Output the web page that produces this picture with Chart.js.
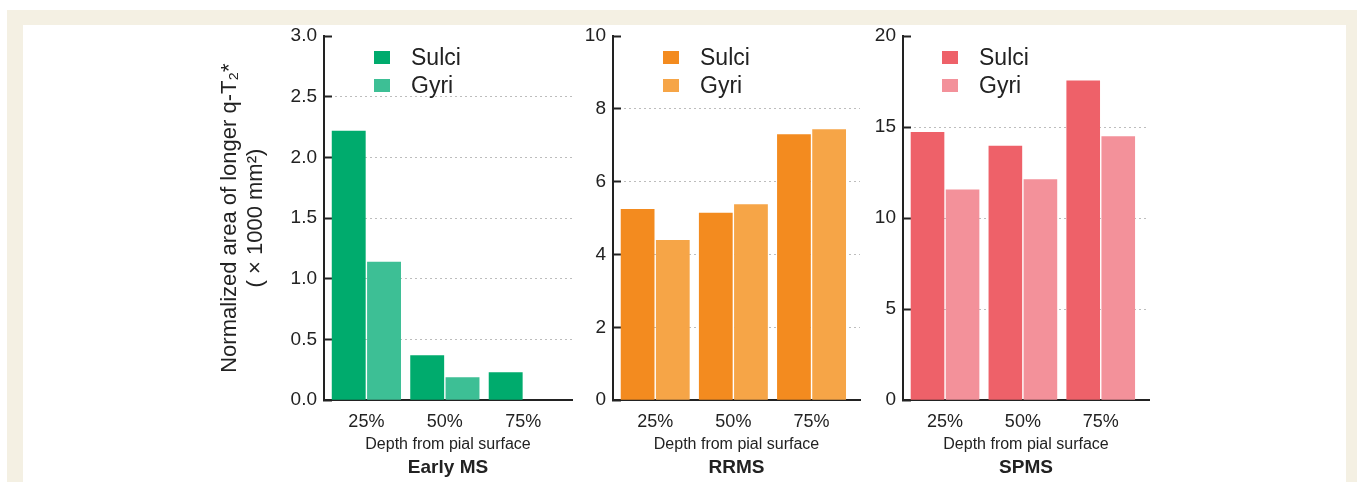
<!DOCTYPE html>
<html>
<head>
<meta charset="utf-8">
<title>Normalized area of longer q-T2* by depth</title>
<script src="https://cdn.jsdelivr.net/npm/chart.js@4.4.1/dist/chart.umd.min.js"></script>
<style>
    html, body { margin: 0; padding: 0; background: #fff; }
    body { width: 1357px; height: 482px; position: relative; overflow: hidden; font-family: 'Liberation Sans', Arial, Helvetica, sans-serif; }
    .frame { position: absolute; background: #f4f0e3; }
    .panel { position: absolute; top: 0; height: 482px; }
    .panel canvas { position: absolute; left: 0; top: 0; }
    .legend { position: absolute; top: 43px; color: #222; font-size: 23px; }
    .legend .row { display: flex; align-items: center; height: 28.5px; white-space: nowrap; }
    .legend .swatch { width: 16px; height: 13px; margin-right: 21px; }
</style>
</head>
<body>
<div class="frame" style="left:7px;top:10px;width:1350px;height:15px"></div>
<div class="frame" style="left:7px;top:10px;width:16px;height:472px"></div>
<div class="frame" style="left:1346px;top:10px;width:11px;height:472px"></div>

<div class="panel" id="panel-early" style="left:0;width:580px"><canvas id="chart-early" width="580" height="482"></canvas></div>
<div class="panel" id="panel-rrms" style="left:580px;width:290px"><canvas id="chart-rrms" width="290" height="482"></canvas></div>
<div class="panel" id="panel-spms" style="left:870px;width:290px"><canvas id="chart-spms" width="290" height="482"></canvas></div>

<script>
// values (x 1000 mm2)
const depths = ['25%', '50%', '75%'];
const seriesNames = ['Sulci', 'Gyri'];
const earlySulci = [2.22, 0.37, 0.23];
const earlyGyri = [1.14, 0.19, 0];
const rrmsSulci = [5.25, 5.15, 7.30];
const rrmsGyri = [4.40, 5.38, 7.44];
const spmsSulci = [14.73, 13.97, 17.55];
const spmsGyri = [11.57, 12.14, 14.49];
const panelTitles = ['Early MS', 'RRMS', 'SPMS'];
const xTitle = 'Depth from pial surface';
const yTitle = ['Normalized area of longer q-T\u2082*', '( \u00d7 1000 mm\u00b2)'];

Chart.defaults.font.family = "'Liberation Sans', Arial, Helvetica, sans-serif";
Chart.defaults.color = '#222';

const panels = [
    { id: 'early', sulci: earlySulci, gyri: earlyGyri, title: panelTitles[0], max: 3, step: 0.5, decimals: 1,
      colors: ['#00ab6d', '#3dbf95'], showYTitle: true, padLeft: 217, padRight: 8, yWidth: 107, legendX: 50 },
    { id: 'rrms', sulci: rrmsSulci, gyri: rrmsGyri, title: panelTitles[1], max: 10, step: 2, decimals: 0,
      colors: ['#f38b1f', '#f6a547'], showYTitle: false, padLeft: 3, padRight: 10, yWidth: 30, legendX: 50 },
    { id: 'spms', sulci: spmsSulci, gyri: spmsGyri, title: panelTitles[2], max: 20, step: 5, decimals: 0,
      colors: ['#ee6169', '#f3919a'], showYTitle: false, padLeft: 3, padRight: 11, yWidth: 30, legendX: 39 }
];

function buildChart(p) {
    const ctx = document.getElementById('chart-' + p.id).getContext('2d');
    return new Chart(ctx, {
        type: 'bar',
        data: {
            labels: depths.map((d, i) => i + 1),
            datasets: [
                { label: seriesNames[0], data: p.sulci, backgroundColor: p.colors[0] },
                { label: seriesNames[1], data: p.gyri, backgroundColor: p.colors[1] }
            ]
        },
        options: {
            responsive: false,
            animation: false,
            events: [],
            categoryPercentage: 0.9,
            barPercentage: 0.96,
            borderWidth: 0,
            layout: { padding: { top: 36, bottom: 3, left: p.padLeft, right: p.padRight } },
            scales: {
                x: {
                    type: 'linear',
                    min: 0.46,
                    max: 3.62,
                    offset: false,
                    afterBuildTicks: (scale) => {
                        scale.ticks = depths.map((d, i) => ({ value: i + 1 }));
                    },
                    afterFit: (scale) => { scale.height = 56; },
                    ticks: {
                        callback: (v) => depths[v - 1],
                        font: { size: 18 },
                        color: '#222',
                        padding: 11,
                        maxRotation: 0
                    },
                    grid: { display: false, drawTicks: false, offset: false },
                    border: { color: '#222', width: 2 },
                    title: { display: true, text: xTitle, font: { size: 16 }, color: '#222', padding: { top: 0, bottom: 2 } }
                },
                y: {
                    min: 0,
                    max: p.max,
                    afterFit: (scale) => { scale.width = p.yWidth; },
                    ticks: {
                        stepSize: p.step,
                        padding: 15,
                        font: { size: 19 },
                        color: '#222',
                        callback: (v) => v.toFixed(p.decimals)
                    },
                    grid: {
                        color: (c) => (c.tick && (c.tick.value === 0 || c.tick.value === p.max)) ? 'rgba(0,0,0,0)' : '#bdbdbd',
                        lineWidth: 1,
                        drawTicks: true,
                        tickLength: -8,
                        tickColor: '#222',
                        tickWidth: 2
                    },
                    border: { color: '#222', width: 2, dash: [2, 3] },
                    title: {
                        display: p.showYTitle,
                        text: yTitle,
                        font: { size: 22, lineHeight: 1.18 },
                        color: '#222',
                        padding: { top: 0, bottom: 19 }
                    }
                }
            },
            plugins: {
                legend: { display: false },
                tooltip: { enabled: false },
                title: {
                    display: true,
                    text: p.title,
                    position: 'bottom',
                    fullSize: false,
                    font: { size: 19, weight: 'bold', lineHeight: 1.2 },
                    color: '#222',
                    padding: 0
                }
            }
        }
    });
}

// legend sits inside the plot area, built from the chart's own datasets
function addLegend(chart, p) {
    const wrap = document.getElementById('panel-' + p.id);
    const box = document.createElement('div');
    box.className = 'legend';
    box.style.left = (chart.chartArea.left + p.legendX) + 'px';
    chart.data.datasets.forEach(ds => {
        const row = document.createElement('div');
        row.className = 'row';
        const sw = document.createElement('span');
        sw.className = 'swatch';
        sw.style.background = ds.backgroundColor;
        const label = document.createElement('span');
        label.textContent = ds.label;
        row.appendChild(sw);
        row.appendChild(label);
        box.appendChild(row);
    });
    wrap.appendChild(box);
}

panels.forEach(p => {
    const chart = buildChart(p);
    addLegend(chart, p);
});
</script>
</body>
</html>
